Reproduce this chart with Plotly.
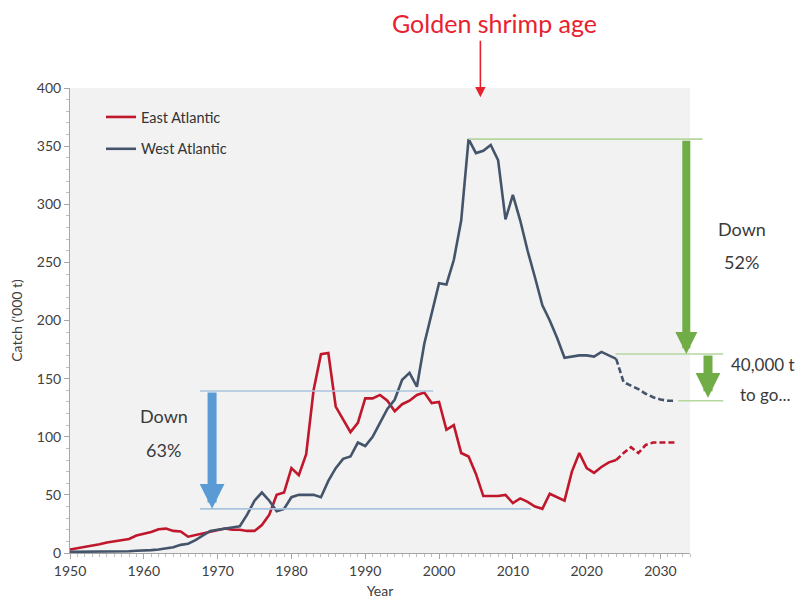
import plotly.graph_objects as go

# ---------------- data ----------------
years_hist = list(range(1950, 2025))
east_hist = [3, 4, 5, 6, 7.5, 9, 10, 11.5, 12, 15,
             16.5, 18, 20.5, 21, 19, 18.5, 14, 15.5, 17, 18,
             19.5, 21, 20, 20, 19, 19, 24, 33, 50, 52,
             73, 67, 85, 140, 171, 172, 126, 115, 104, 112,
             133, 133, 136, 131, 122, 128, 131, 136, 138, 129,
             130, 106, 110, 86, 83, 68, 49, 49, 49, 50,
             43, 47, 44, 40, 38, 51, 48, 45, 70, 86,
             73, 69, 74, 78, 80]
west_hist = [1, 1, 1, 1, 1, 1, 1, 1, 1.5, 2,
             2, 2.5, 3, 4, 5, 7, 8, 11, 15, 19,
             20, 21, 22, 23, 33, 45, 52, 45, 36, 38,
             48, 50, 50, 50, 48, 62, 73, 81, 83, 95,
             92, 100, 112, 124, 132, 149, 155, 143, 180, 205,
             232, 231, 252, 286, 356, 344, 346, 351, 338, 287,
             308, 286, 260, 237, 213, 200, 185, 168, 169, 170,
             170, 169, 173, 170, 167]
years_proj = list(range(2024, 2033))
east_proj = [80, 86, 91, 86, 93, 95, 95, 95, 95]
west_proj = [167, 147, 144, 141, 137, 134, 132, 131, 131]

x_ticks = [1950, 1960, 1970, 1980, 1990, 2000, 2010, 2020, 2030]
y_ticks = [0, 50, 100, 150, 200, 250, 300, 350, 400]

# reference levels used by the annotations
blue_top, blue_bottom = 139.4, 38
green_top, green_mid, green_bottom = 356, 171.2, 131

RED = "#C0172C"
GREY = "#44546A"
FONT = "Lato"
XR = (1950, 2034)
YR = (0, 400)


def xp(year):
    return (year - XR[0]) / (XR[1] - XR[0])


def yp(val):
    return (val - YR[0]) / (YR[1] - YR[0])


fig = go.Figure()
fig.add_trace(go.Scatter(x=years_hist, y=east_hist, mode="lines", name="East Atlantic",
                         legendgroup="east", line=dict(color=RED, width=2.6)))
fig.add_trace(go.Scatter(x=years_hist, y=west_hist, mode="lines", name="West Atlantic",
                         legendgroup="west", line=dict(color=GREY, width=2.6)))
fig.add_trace(go.Scatter(x=years_proj, y=east_proj, mode="lines", showlegend=False,
                         legendgroup="east", line=dict(color=RED, width=2.6, dash="6px,3px")))
fig.add_trace(go.Scatter(x=years_proj, y=west_proj, mode="lines", showlegend=False,
                         legendgroup="west", line=dict(color=GREY, width=2.6, dash="6px,3px")))

shapes = []
blue_line = dict(color="#A9C4DE", width=1.6)
green_line = dict(color="#B5D69C", width=1.6)
shapes.append(dict(type="line", xref="paper", yref="paper", x0=xp(1967.6), x1=xp(1999.2),
                   y0=yp(blue_top), y1=yp(blue_top), line=blue_line))
shapes.append(dict(type="line", xref="paper", yref="paper", x0=xp(1967.6), x1=xp(2012.4),
                   y0=yp(blue_bottom), y1=yp(blue_bottom), line=blue_line))
shapes.append(dict(type="line", xref="paper", yref="paper", x0=xp(2004.0), x1=xp(2035.7),
                   y0=yp(green_top), y1=yp(green_top), line=green_line))
shapes.append(dict(type="line", xref="paper", yref="paper", x0=xp(2023.9), x1=xp(2038.5),
                   y0=yp(green_mid), y1=yp(green_mid), line=green_line))
shapes.append(dict(type="line", xref="paper", yref="paper", x0=xp(2032.4), x1=xp(2038.5),
                   y0=yp(green_bottom), y1=yp(green_bottom), line=green_line))

ann = []
# blue arrow
ann.append(dict(xref="x", yref="y", x=1969.25, y=blue_bottom, axref="x", ayref="y",
                ax=1969.25, ay=blue_top, showarrow=True, arrowhead=2, arrowsize=0.55,
                arrowwidth=9, arrowcolor="#5B9BD5", text=""))
# big green arrow
ann.append(dict(xref="x", yref="y", x=2033.5, y=green_mid, axref="x", ayref="y",
                ax=2033.5, ay=green_top, showarrow=True, arrowhead=2, arrowsize=0.55,
                arrowwidth=8, arrowcolor="#70AD47", text=""))
# small green arrow
ann.append(dict(xref="paper", yref="paper", x=(708 - 70) / 620, y=yp(133.5),
                ax=0, ay=-(171.2 - 133.5) * 1.1625, showarrow=True, arrowhead=2,
                arrowsize=0.55, arrowwidth=9, arrowcolor="#70AD47", text=""))
# red arrow
ann.append(dict(xref="x", yref="paper", x=2005.6, y=yp(392), ax=0, ay=-58,
                showarrow=True, arrowhead=2, arrowsize=1.3, arrowwidth=1.6,
                arrowcolor="#E8212F", text=""))

txt_font = dict(family=FONT, size=18, color="#3A3A3A")
small_font = dict(family=FONT, size=17, color="#3A3A3A")


def label(x, y, text, font=txt_font, xref="paper", yref="paper"):
    return dict(xref=xref, yref=yref, x=x, y=y, text=text, showarrow=False, font=font,
                xanchor="center", yanchor="middle")


ann.append(label(xp(1962.7), yp(117.5), "Down"))
ann.append(label(xp(1962.7), yp(89.0), "63%"))
ann.append(label(xp(2041.0), yp(278.5), "Down"))
ann.append(label(xp(2041.0), yp(250.0), "52%"))
ann.append(label(xp(2043.9), yp(162.5), "40,000 t", font=small_font))
ann.append(label(xp(2044.1), yp(136.0), "to go...", font=small_font))
ann.append(label((494 - 70) / 620, (553 - 23) / 465, "Golden shrimp age",
                 font=dict(family=FONT, size=25, color="#E8212F")))

tick_font = dict(family=FONT, size=14, color="#404040")
fig.update_layout(
    width=797, height=608, autosize=False,
    margin=dict(l=62, r=115, t=80, b=63, autoexpand=False),
    paper_bgcolor="white", plot_bgcolor="#F2F2F2",
    font=dict(family=FONT, color="#404040"),
    showlegend=True,
    legend=dict(x=0.05, y=0.972, xanchor="left", yanchor="top", bgcolor="rgba(0,0,0,0)",
                font=dict(family=FONT, size=14.5, color="#333333"), tracegroupgap=10,
                itemwidth=30),
    shapes=shapes, annotations=ann,
    xaxis=dict(range=list(XR), tickvals=x_ticks, showgrid=False, zeroline=False,
               showline=True, linecolor="#A6A6A6", linewidth=1, ticks="outside",
               ticklen=5, tickcolor="#A6A6A6", tickfont=tick_font,
               minor=dict(dtick=1, ticks="outside", ticklen=3, tickcolor="#BFBFBF"),
               title=dict(text="Year", font=dict(family=FONT, size=14, color="#404040"),
                          standoff=8)),
    yaxis=dict(range=list(YR), tickvals=y_ticks, showgrid=False, zeroline=False,
               showline=True, linecolor="#A6A6A6", linewidth=1, ticks="outside",
               ticklen=5, tickcolor="#A6A6A6", tickfont=tick_font,
               minor=dict(dtick=10, ticks="outside", ticklen=3, tickcolor="#BFBFBF"),
               title=dict(text="Catch ('000 t)", font=dict(family=FONT, size=14, color="#404040"),
                          standoff=12)),
)

fig.write_html("out.html")
